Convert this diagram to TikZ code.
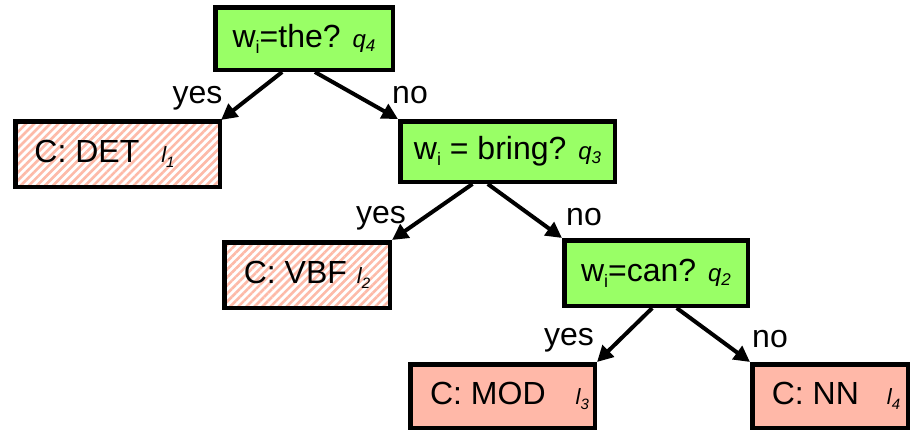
\documentclass[tikz,border=0pt]{standalone}
\usepackage{fontspec}
\setmainfont{Liberation Sans}
\usetikzlibrary{arrows.meta,patterns.meta,calc}
\definecolor{qgreen}{HTML}{99FF66}
\definecolor{leafred}{HTML}{FFB8A8}
\definecolor{hatchred}{HTML}{FDBAA8}
\newcommand\wi{w\raisebox{-6pt}{\fontsize{18}{18}\selectfont i}}
\newcommand\qv[1]{{\fontsize{24}{24}\selectfont\itshape q\raisebox{-4pt}{\fontsize{17}{17}\selectfont #1}}}
\newcommand\lv[1]{{\fontsize{22}{22}\selectfont\itshape l\raisebox{-5pt}{\fontsize{15}{15}\selectfont #1}}}
\begin{document}
\begin{tikzpicture}[x=1pt,y=-1pt,
  box/.style={draw=black,line width=4.5pt,inner sep=0pt,font=\fontsize{32}{32}\selectfont,text=black},
  qbox/.style={box,fill=qgreen},
  leafbox/.style={box,fill=leafred},
  hatchbox/.style={box,preaction={fill=white},pattern={Lines[angle=45,distance=5.7pt,line width=2.6pt]},pattern color=hatchred},
  edge/.style={line width=4pt,-{Triangle[length=16pt,width=16pt]}},
  lab/.style={anchor=base,font=\fontsize{32}{32}\selectfont,inner sep=0pt}]
\useasboundingbox (0,0) rectangle (912,432);
% boxes
\node[qbox,minimum width=177.5pt,minimum height=62.5pt] (root) at (304,38.5) {\wi=the? \qv{4}};
\node[hatchbox,minimum width=204.5pt,minimum height=65.5pt] (det) at (117.5,154) {C: DET\kern22pt\lv{1}\kern26pt};
\node[qbox,minimum width=214.5pt,minimum height=60.5pt] (bring) at (507.5,151.5) {\wi\ = bring? \qv{3}};
\node[hatchbox,minimum width=165.5pt,minimum height=65.5pt] (vbf) at (307,275) {C: VBF\kern10pt\lv{2}};
\node[qbox,minimum width=183.5pt,minimum height=65.5pt] (can) at (656,273) {\wi=can? \qv{2}};
\node[leafbox,minimum width=184.5pt,minimum height=63.5pt] (mod) at (502.5,396) {\kern14pt C: MOD\kern30pt\lv{3}};
\node[leafbox,minimum width=155.5pt,minimum height=63.5pt] (nn) at (830,396) {\kern12pt C: NN\kern28pt\lv{4}};
% edges
\draw[edge] ($(root.south west)!0.38!(root.south east)$) -- (det.north east);
\draw[edge] ($(root.south west)!0.56!(root.south east)$) -- (bring.north west);
\draw[edge] ($(bring.south west)!0.34!(bring.south east)$) -- (vbf.north east);
\draw[edge] ($(bring.south west)!0.41!(bring.south east)$) -- (can.north west);
\draw[edge] ($(can.south west)!0.48!(can.south east)$) -- (mod.north east);
\draw[edge] ($(can.south west)!0.61!(can.south east)$) -- (nn.north west);
% labels
\node[lab] (yes1) at (197.5,103) {yes};
\node[lab] (no1) at (410,103) {no};
\node[lab] (yes2) at (381,223) {yes};
\node[lab] (no2) at (584,225) {no};
\node[lab] (yes3) at (569,345) {yes};
\node[lab] (no3) at (770,347) {no};
\end{tikzpicture}
\end{document}
